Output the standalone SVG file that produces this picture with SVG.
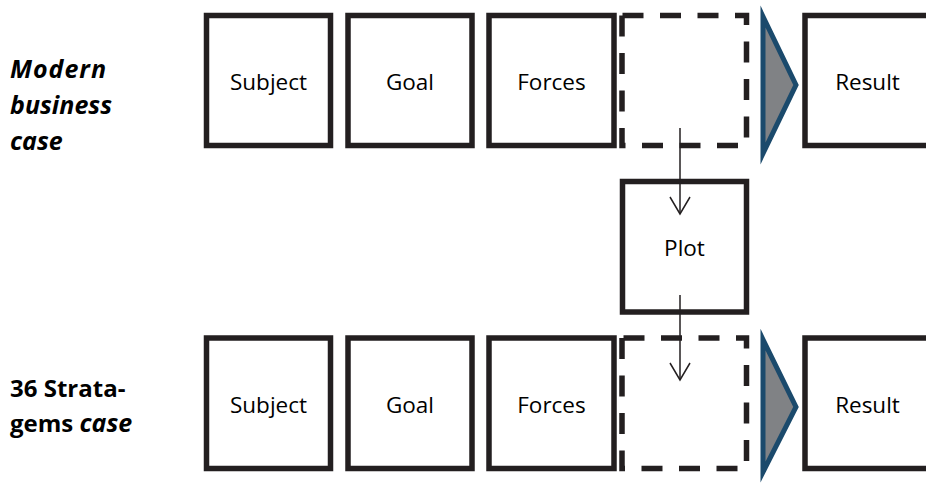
<svg xmlns="http://www.w3.org/2000/svg" width="926" height="484" viewBox="0 0 926 484">
  <style>
    .box { fill: #ffffff; stroke: #231f20; stroke-width: 5.5; }
    .dash { fill: none; stroke: #231f20; stroke-width: 5.5; stroke-dasharray: 21 16.5; }
    .tri { fill: #808285; stroke: #1b4a6c; stroke-width: 5; stroke-linejoin: miter; stroke-miterlimit: 12; }
    .lbl { font-family: "Open Sans", "Noto Sans", sans-serif; font-size: 22.5px; fill: #000000; text-anchor: middle; }
    .side { font-family: "Open Sans", "Noto Sans", sans-serif; font-size: 24px; font-weight: bold; fill: #000000; }
    .it { font-style: italic; font-size: 25px; }
    .flow { fill: none; stroke: #231f20; stroke-width: 1.5; }
  </style>
  <defs>
    <marker id="vee" markerUnits="userSpaceOnUse" markerWidth="24" markerHeight="24" viewBox="-20 -12 24 24" refX="0" refY="0" orient="auto">
      <path d="M-17,-10 L0,0 L-17,10" fill="none" stroke="#231f20" stroke-width="1.5"/>
    </marker>
  </defs>

  <!-- row captions -->
  <g id="caption-modern">
    <text class="side it" x="10" y="78" textLength="96">Modern</text>
    <text class="side it" x="10" y="114" textLength="102">business</text>
    <text class="side it" x="10" y="150">case</text>
  </g>
  <g id="caption-stratagems">
    <text class="side" x="10" y="397">36 Strata-</text>
    <text class="side" x="10" y="432">gems <tspan class="it">case</tspan></text>
  </g>

  <!-- upper row -->
  <g id="top-subject">
    <rect class="box" x="206.5" y="15.5" width="124" height="130"/>
    <text class="lbl" x="268.5" y="90">Subject</text>
  </g>
  <g id="top-goal">
    <rect class="box" x="348" y="15.5" width="124" height="130"/>
    <text class="lbl" x="410" y="90">Goal</text>
  </g>
  <g id="top-forces">
    <rect class="box" x="489" y="15.5" width="125" height="130"/>
    <text class="lbl" x="551.5" y="90">Forces</text>
  </g>
  <g id="top-empty">
    <path class="dash" d="M622,15.5 V145.5 H746.5 V15.5 Z"/>
  </g>
  <g id="top-arrowhead">
    <path class="tri" d="M763,16.5 L796,85 L763,153.5 Z"/>
  </g>
  <g id="top-result">
    <rect class="box" x="805" y="15.5" width="125" height="130"/>
    <text class="lbl" x="867.5" y="90">Result</text>
  </g>

  <!-- middle -->
  <g id="plot">
    <rect class="box" x="622.5" y="181.5" width="124" height="130.5"/>
    <text class="lbl" x="684.5" y="256">Plot</text>
  </g>

  <!-- lower row -->
  <g id="bottom-subject">
    <rect class="box" x="206.5" y="338" width="124" height="130.5"/>
    <text class="lbl" x="268.5" y="413">Subject</text>
  </g>
  <g id="bottom-goal">
    <rect class="box" x="348" y="338" width="124" height="130.5"/>
    <text class="lbl" x="410" y="413">Goal</text>
  </g>
  <g id="bottom-forces">
    <rect class="box" x="489" y="338" width="125" height="130.5"/>
    <text class="lbl" x="551.5" y="413">Forces</text>
  </g>
  <g id="bottom-empty">
    <path class="dash" d="M622,338 V468.5 H746.5 V338 Z"/>
  </g>
  <g id="bottom-arrowhead">
    <path class="tri" d="M763,339.5 L796,407 L763,472 Z"/>
  </g>
  <g id="bottom-result">
    <rect class="box" x="805" y="338" width="125" height="130.5"/>
    <text class="lbl" x="867.5" y="413">Result</text>
  </g>

  <!-- connectors -->
  <g id="connectors">
    <line class="flow" x1="680" y1="128" x2="680" y2="214" marker-end="url(#vee)"/>
    <line class="flow" x1="680" y1="295" x2="680" y2="380" marker-end="url(#vee)"/>
  </g>
</svg>
